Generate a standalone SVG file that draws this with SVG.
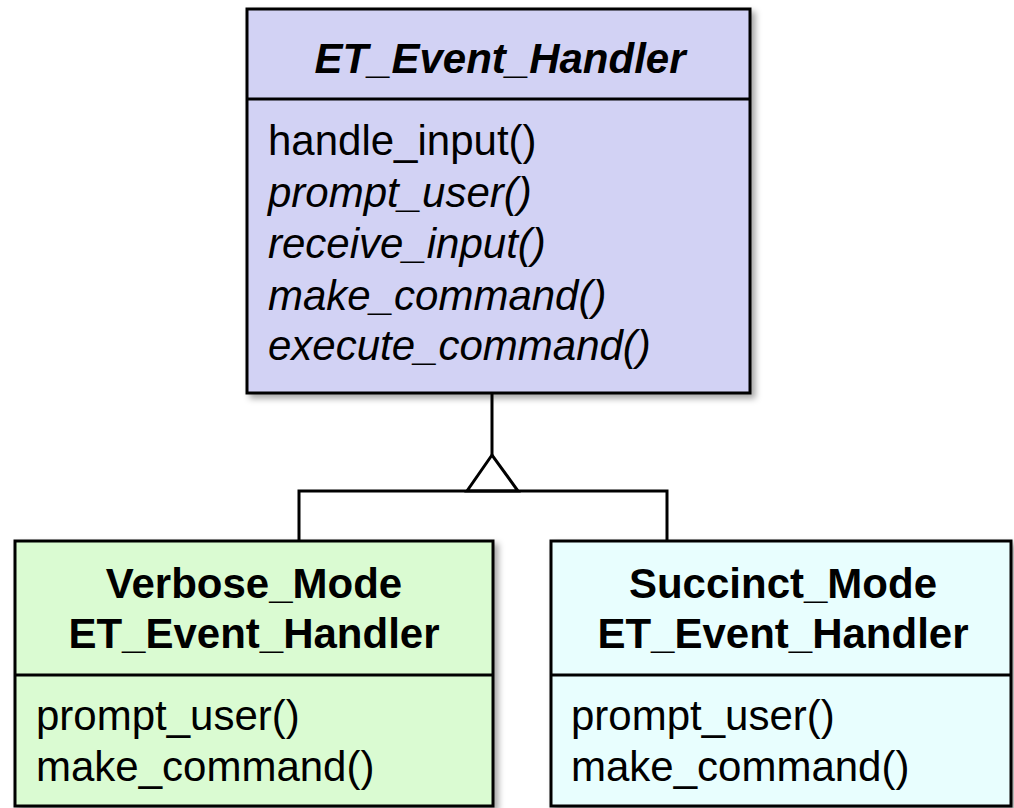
<svg xmlns="http://www.w3.org/2000/svg" width="1014" height="808" viewBox="0 0 1014 808">
  <defs>
    <filter id="sh" x="-5%" y="-5%" width="115%" height="115%">
      <feDropShadow dx="4" dy="4" stdDeviation="3" flood-color="#000" flood-opacity="0.35"/>
    </filter>
    <style>
      .box { stroke: #000; stroke-width: 3; }
      .div { stroke: #000; stroke-width: 3; }
      .t { font-family: "Liberation Sans", Arial, sans-serif; font-size: 42px; fill: #000; }
      .b { font-weight: bold; }
      .i { font-style: italic; }
      .c { text-anchor: middle; }
      .conn { stroke: #000; stroke-width: 3; fill: none; }
    </style>
  </defs>
  <rect width="1014" height="808" fill="#fff"/>

  <g id="connectors">
    <line class="conn" x1="492" y1="393" x2="492" y2="455"/>
    <polygon class="conn" points="492,455 467,491 518,491" fill="#fff"/>
    <polyline class="conn" points="299,541 299,491 667,491 667,541"/>
  </g>

  <g id="et_event_handler">
    <rect class="box" x="247" y="9" width="503" height="384" fill="#D2D2F4" filter="url(#sh)"/>
    <line class="div" x1="247" y1="99" x2="750" y2="99"/>
    <text class="t b i c" x="500" y="73">ET_Event_Handler</text>
    <text class="t" x="268" y="155">handle_input()</text>
    <text class="t i" x="268" y="207">prompt_user()</text>
    <text class="t i" x="268" y="258">receive_input()</text>
    <text class="t i" x="268" y="310">make_command()</text>
    <text class="t i" x="268" y="360">execute_command()</text>
  </g>

  <g id="verbose_mode">
    <rect class="box" x="15" y="541" width="478" height="265" fill="#DAFBD2" filter="url(#sh)"/>
    <line class="div" x1="15" y1="675" x2="493" y2="675"/>
    <text class="t b c" x="254" y="598">Verbose_Mode</text>
    <text class="t b c" x="254" y="648">ET_Event_Handler</text>
    <text class="t" x="36" y="730">prompt_user()</text>
    <text class="t" x="36" y="781">make_command()</text>
  </g>

  <g id="succinct_mode">
    <rect class="box" x="551" y="541" width="460" height="265" fill="#E8FEFE" filter="url(#sh)"/>
    <line class="div" x1="551" y1="675" x2="1011" y2="675"/>
    <text class="t b c" x="783" y="598">Succinct_Mode</text>
    <text class="t b c" x="783" y="648">ET_Event_Handler</text>
    <text class="t" x="571" y="730">prompt_user()</text>
    <text class="t" x="571" y="781">make_command()</text>
  </g>
</svg>
